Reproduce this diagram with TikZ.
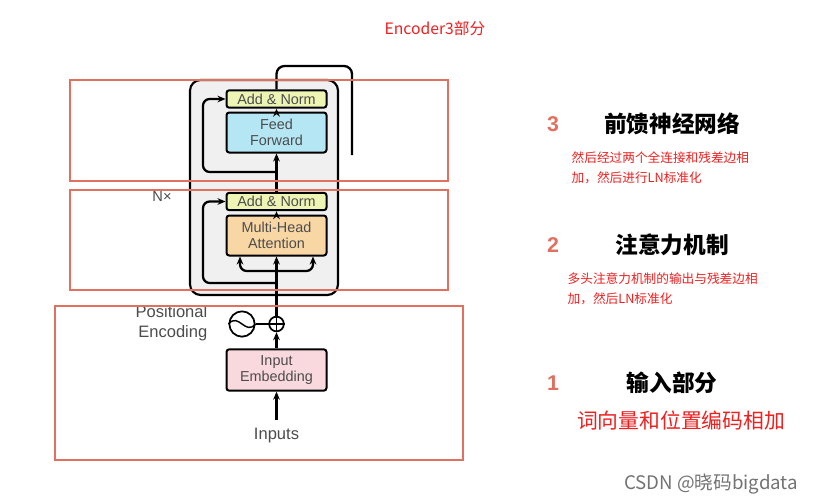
\documentclass[tikz,border=0pt]{standalone}
\usepackage{fontspec}
\setmainfont{Liberation Sans}
\newfontfamily\cjk{Noto Sans CJK SC}
\usetikzlibrary{arrows.meta}
\definecolor{rr}{HTML}{E07060}
\definecolor{tred}{HTML}{F02020}
\definecolor{yel}{HTML}{EEF4B4}
\definecolor{cya}{HTML}{B4E6F4}
\definecolor{ora}{HTML}{F9D7A4}
\definecolor{pnk}{HTML}{F9D9DE}
\begin{document}
\begin{tikzpicture}[x=0.75pt,y=-0.75pt,
 blk/.style={draw=black,line width=1.5pt,rounded corners=2pt,align=center,font=\fontsize{10.8}{11.5}\selectfont\color{black!70},inner sep=0pt},
 red box/.style={draw=rr,line width=1.2pt},
 ln/.style={line width=1.7pt},
 arr/.style={ln,-{Stealth[length=6pt,width=5pt]}},
 cjk txt/.style={font=\cjk\fontsize{9.5}{15}\selectfont,text=tred,align=left,anchor=north west},
 head/.style={font=\cjk\bfseries\fontsize{17}{19}\selectfont},
 num/.style={font=\bfseries\fontsize{16}{18}\selectfont,text=rr}]
\useasboundingbox (0,0) rectangle (813,503);
\fill[white] (0,0) rectangle (813,503);
\draw[black,line width=1.6pt,fill=black!6,rounded corners=8pt] (190,80) rectangle (338,295);
\node[blk,fill=yel,minimum width=75pt,minimum height=13pt] (an1) at (276.5,99) {Add \& Norm};
\node[blk,fill=cya,minimum width=75pt,minimum height=30pt] (ff) at (276.5,132.5) {Feed\\Forward};
\node[blk,fill=yel,minimum width=75pt,minimum height=13pt] (an2) at (276.5,201.5) {Add \& Norm};
\node[blk,fill=ora,minimum width=75pt,minimum height=30pt] (mha) at (276.5,235.5) {Multi-Head\\Attention};
\node[blk,fill=pnk,minimum width=75pt,minimum height=31pt] (emb) at (276.5,370) {Input\\Embedding};
\node[draw,circle,line width=1.3pt,minimum size=11pt,inner sep=0pt] (plus) at (276.5,324) {};
\draw[line width=1.1pt] (plus.north)--(plus.south) (plus.west)--(plus.east);
\node[draw,circle,line width=1.3pt,minimum size=19pt,inner sep=0pt] (pe) at (242,324) {};
\draw[line width=1.1pt] (pe.west) .. controls (239,312) and (245,336) .. (pe.east);
\draw[ln] (pe.east)--(plus.west);
\node[font=\fontsize{12.4}{15}\selectfont,text=black!70,align=right,anchor=east] (pet) at (212,323) {Positional\\Encoding};
\node[font=\fontsize{12.4}{14}\selectfont,text=black!70] (inp) at (276.5,436) {Inputs};
\node[font=\fontsize{11}{13}\selectfont,text=black!70] (nx) at (162,196) {N\texttimes};
\coordinate (bot) at (276.5,420);
\coordinate (la) at (240,271);
\coordinate (ra) at (313,271);
\draw[arr] (bot)--(emb.south);
\draw[arr] (emb.north)--(plus.south);
\draw[arr] (plus.north)--(mha.south);
\draw[arr] (mha.north)--(an2.south);
\draw[arr] (an2.north)--(ff.south);
\draw[arr] (ff.north)--(an1.south);
\draw[arr,rounded corners=5pt] (276.5,283)--(203,283)--(203,201.5)--(an2.west);
\draw[arr,rounded corners=5pt] (276.5,172)--(203,172)--(203,99)--(an1.west);
\draw[arr,rounded corners=5pt] (276.5,271)--(la)--(la |- mha.south);
\draw[arr,rounded corners=5pt] (276.5,271)--(ra)--(ra |- mha.south);
\draw[ln,rounded corners=6pt] (an1.north)--(276.5,66)--(352,66)--(352,155);
\draw[red box] (70,80) rectangle (448,181);
\draw[red box] (70,190) rectangle (448,290);
\draw[red box] (55,306) rectangle (463,460);
\node[font=\cjk\fontsize{11.8}{13}\selectfont,text=tred] (title) at (435,29) {Encoder3部分};
\node[num] (n3) at (553,124) {3};
\node[head] (h3) at (672,124) {前馈神经网络};
\node[cjk txt] (t3) at (567,147) {然后经过两个全连接和残差边相\\加，然后进行LN标准化};
\node[num] (n2) at (553,245) {2};
\node[head] (h2) at (672,245) {注意力机制};
\node[cjk txt] (t2) at (563,268) {多头注意力机制的输出与残差边相\\加，然后LN标准化};
\node[num] (n1) at (553,383) {1};
\node[head] (h1) at (672,383) {输入部分};
\node[font=\cjk\fontsize{15.6}{17}\selectfont,text=tred] (t1) at (681,421) {词向量和位置编码相加};
\node[font=\cjk\fontsize{14}{15}\selectfont,text=black!55] (wm) at (711,484) {CSDN @晓码bigdata};
\end{tikzpicture}
\end{document}
